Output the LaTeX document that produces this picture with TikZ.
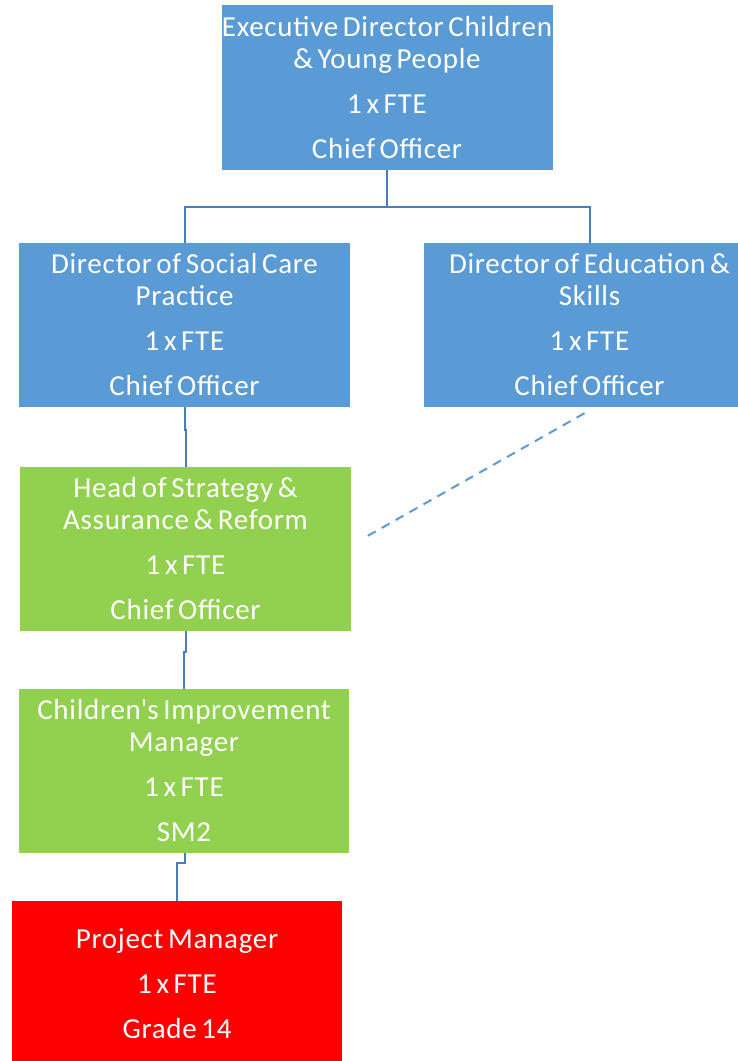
\documentclass[tikz,border=0pt]{standalone}
\usepackage{fontspec}
\setmainfont{Carlito}
\newfontfamily\postfamily[LetterSpace=2.5]{Carlito}
\definecolor{boxblue}{HTML}{5B9BD5}
\definecolor{boxgreen}{HTML}{92D050}
\definecolor{boxred}{HTML}{FF0000}
\definecolor{linkblue}{HTML}{4A7EBB}
\newcommand{\postfontsetup}{\postfamily\fontsize{29}{32}\selectfont\spaceskip=4.6pt plus 1.5pt minus 1pt\relax}
\begin{document}
\begin{tikzpicture}[x=1pt,y=-1pt,
  post/.style={minimum width=331pt, minimum height=165pt, inner sep=0pt, text=white, align=center,
    font=\postfontsetup},
  conn/.style={draw=linkblue, line width=2pt},
  dotted link/.style={draw=boxblue, line width=2pt, dash pattern=on 9pt off 7pt}]
\useasboundingbox (0,0) rectangle (738,1061);
\fill[white] (0,0) rectangle (738,1061);
\node[post, fill=boxblue, minimum height=165pt] (ex) at (387,87.5) {Executive Director Children\\ \& Young People\\[13pt] 1 x FTE\\[13pt] Chief Officer};
\node[post, fill=boxblue, minimum height=164pt] (sc) at (184.5,325) {Director of Social Care\\ Practice\\[13pt] 1 x FTE\\[13pt] Chief Officer};
\node[post, fill=boxblue, minimum height=164pt] (ed) at (589.5,325) {Director of Education \&\\ Skills\\[13pt] 1 x FTE\\[13pt] Chief Officer};
\node[post, fill=boxgreen, minimum height=164pt] (hs) at (185.5,549) {Head of Strategy \&\\ Assurance \& Reform\\[13pt] 1 x FTE\\[13pt] Chief Officer};
\node[post, fill=boxgreen, minimum width=330pt, minimum height=164pt] (cim) at (184,771) {Children\textquotesingle s Improvement\\ Manager\\[13pt] 1 x FTE\\[13pt] SM2};
\node[post, fill=boxred, minimum width=330pt, minimum height=165pt] (pm) at (177,983.5) {Project Manager\\[13pt] 1 x FTE\\[13pt] Grade 14};
% connectors
\draw[conn] (ex.south) -- ++(0,37) coordinate (bus);
\draw[conn] (bus) -| (sc.north);
\draw[conn] (bus) -| (ed.north);
\draw[conn] (sc.south) -- ++(0,23) -- ++(1,0) -- (hs.north);
\draw[conn] (hs.south) -- ++(0,21) -- ++(-1.5,0) -- (cim.north);
\draw[conn] ([xshift=1pt]cim.south) -- ++(0,10) -- ++(-8,0) -- (pm.north);
\path (hs.east) ++(11,-10) coordinate (dl);
\path (ed.south) ++(-5,6) coordinate (dr);
\draw[dotted link] (dr) -- (dl);
\end{tikzpicture}
\end{document}
